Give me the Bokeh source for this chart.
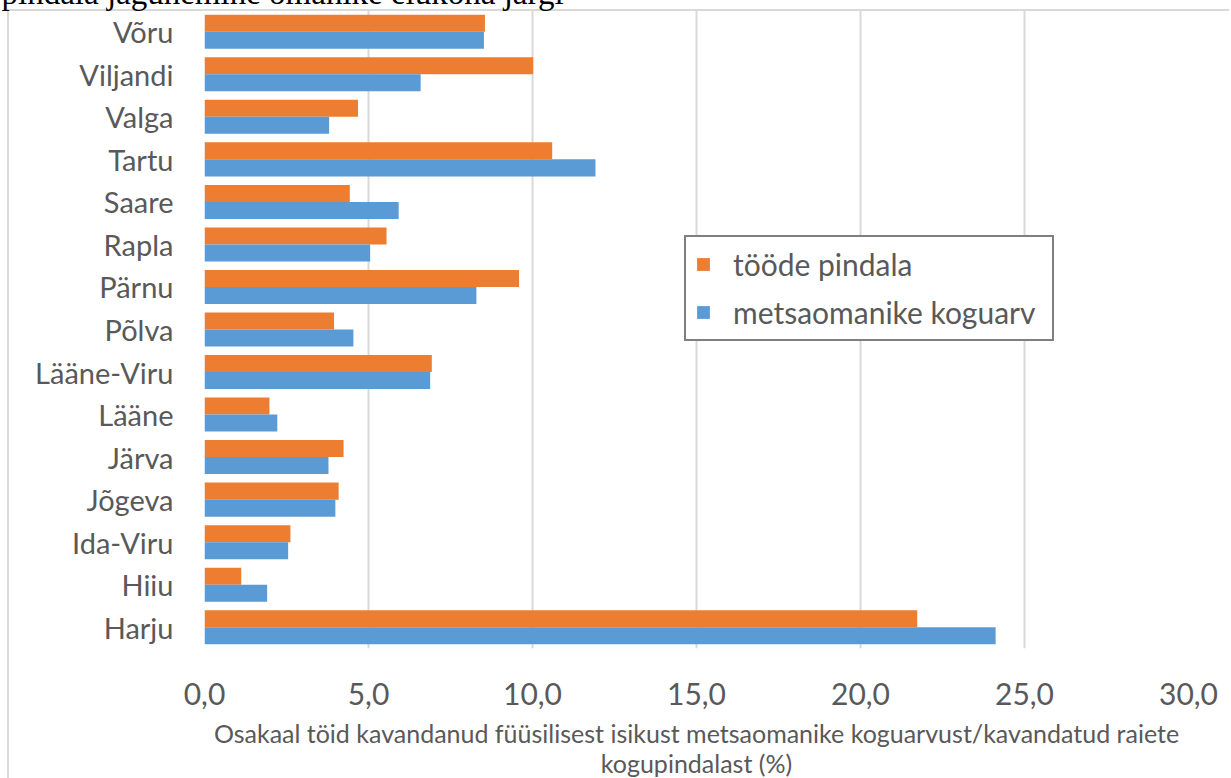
from bokeh.plotting import figure
from bokeh.models import (FactorRange, Range1d, Legend, LegendItem,
                          FixedTicker, ColumnDataSource, GlobalInlineStyleSheet)
from bokeh.transform import dodge
from bokeh.embed import file_html
from bokeh.resources import INLINE

# ---- data (top to bottom as in the chart) ----
counties = ["Võru", "Viljandi", "Valga", "Tartu", "Saare", "Rapla", "Pärnu",
            "Põlva", "Lääne-Viru", "Lääne", "Järva", "Jõgeva", "Ida-Viru",
            "Hiiu", "Harju"]
area_share = [8.55, 10.02, 4.68, 10.60, 4.43, 5.55, 9.59,
              3.95, 6.93, 1.98, 4.24, 4.09, 2.62, 1.12, 21.73]
owner_share = [8.52, 6.59, 3.80, 11.92, 5.92, 5.05, 8.29,
               4.54, 6.88, 2.22, 3.78, 3.99, 2.55, 1.91, 24.12]
series_names = ["tööde pindala", "metsaomanike koguarv"]
x_ticks = [0, 5, 10, 15, 20, 25, 30]
x_tick_labels = ["0,0", "5,0", "10,0", "15,0", "20,0", "25,0", "30,0"]
title_text = "pindala jagunemine omanike elukoha järgi"
x_title = ("Osakaal töid kavandanud füüsilisest isikust metsaomanike koguarvust/kavandatud raiete\n"
           "kogupindalast (%)")

ORANGE = "#ED7D31"
BLUE = "#5B9BD5"
GRID = "#D9D9D9"
TXT = "#595959"
FONT = "Lato"

SHIFT = 28                  # canvas starts above the page top (heading is cut)
W = 1229
FL, FR = 204, 1188
FT, FB = 12 + SHIFT, 648 + SHIFT
H = 778 + SHIFT + 20

src = ColumnDataSource(dict(county=counties, area=area_share, owners=owner_share))

styles = {
    "margin-top": f"-{SHIFT}px",
    "background-image": f"linear-gradient({GRID},{GRID}), linear-gradient({GRID},{GRID})",
    "background-size": "2px 100%, 100% 2px",
    "background-position": f"7px {10 + SHIFT - 1}px, 7px {10 + SHIFT - 1}px",
    "background-repeat": "no-repeat",
}
page_css = GlobalInlineStyleSheet(css="html, body { overflow: hidden; }")

p = figure(width=W, height=H, output_backend="svg", toolbar_location=None,
           y_range=FactorRange(factors=counties[::-1], range_padding=0),
           x_range=Range1d(0, 30),
           min_border_left=FL, min_border_right=W - FR,
           min_border_top=0, min_border_bottom=H - FB,
           title=title_text, styles=styles, stylesheets=[page_css])
p.outline_line_color = None
p.background_fill_color = None
p.border_fill_color = None

# document heading line above the chart (cut off at the page top)
p.title.text_font = "Liberation Serif"
p.title.text_font_size = "33px"
p.title.text_font_style = "normal"
p.title.text_color = "black"
p.title.align = "left"
p.title.offset = -203
p.title.standoff = 0

r1 = p.hbar(y=dodge("county", 0.2, range=p.y_range), right="area", left=0,
            height=0.4, source=src, fill_color=ORANGE, line_color=None)
r2 = p.hbar(y=dodge("county", -0.2, range=p.y_range), right="owners", left=0,
            height=0.4, source=src, fill_color=BLUE, line_color=None)

# grid
p.ygrid.grid_line_color = None
p.xgrid.grid_line_color = GRID
p.xgrid.grid_line_width = 2
p.xgrid.level = "underlay"

# x axis
xa = p.xaxis[0]
xa.ticker = FixedTicker(ticks=x_ticks)
xa.major_label_overrides = {t: l for t, l in zip(x_ticks, x_tick_labels)}
xa.axis_line_color = None
xa.major_tick_line_color = None
xa.minor_tick_line_color = None
xa.major_tick_out = 0
xa.major_tick_in = 0
xa.major_label_standoff = 34
xa.major_label_text_font = FONT
xa.major_label_text_font_size = "30px"
xa.major_label_text_color = TXT
xa.axis_label = x_title
xa.axis_label_text_font = FONT
xa.axis_label_text_font_size = "25px"
xa.axis_label_text_font_style = "normal"
xa.axis_label_text_color = TXT
xa.axis_label_text_line_height = 1.0
xa.axis_label_standoff = 10
xa.axis_label_text_align = "center"

# y axis
ya = p.yaxis[0]
ya.axis_line_color = None
ya.major_tick_line_color = None
ya.minor_tick_line_color = None
ya.major_tick_out = 0
ya.major_tick_in = 0
ya.major_label_standoff = 31
ya.major_label_text_font = FONT
ya.major_label_text_font_size = "29px"
ya.major_label_text_color = TXT

# legend
legend = Legend(items=[LegendItem(label=series_names[0], renderers=[r1]),
                       LegendItem(label=series_names[1], renderers=[r2])],
                location=(480, 307), orientation="vertical",
                label_text_font=FONT, label_text_font_size="30px",
                label_text_color=TXT, glyph_width=16, glyph_height=16,
                label_standoff=22, padding=9, spacing=12, label_height=36,
                label_width=310,
                border_line_color="black", border_line_width=2,
                background_fill_color="white", background_fill_alpha=1,
                margin=0)
p.add_layout(legend, "center")

open("out.html", "w").write(file_html(p, INLINE))
